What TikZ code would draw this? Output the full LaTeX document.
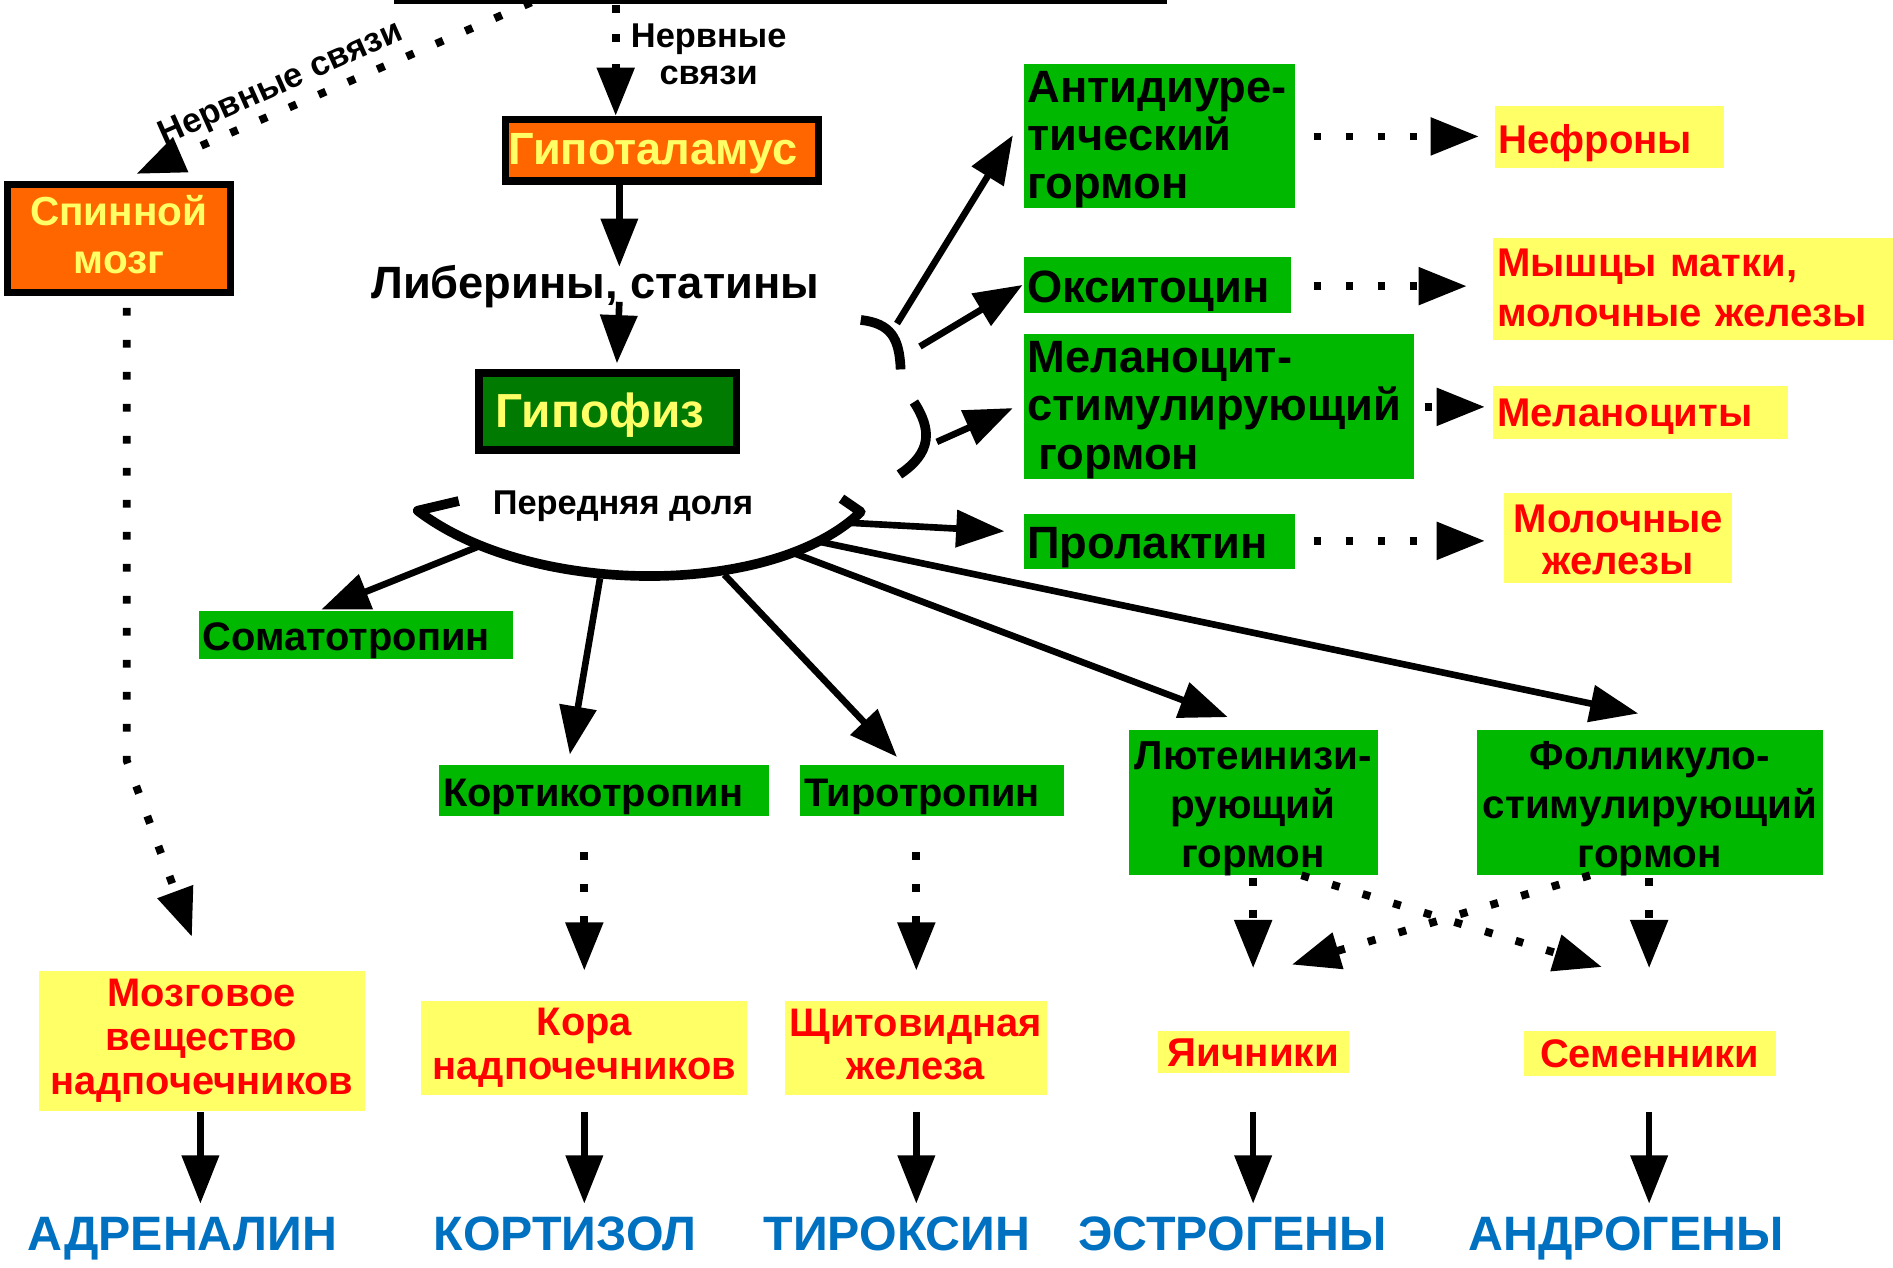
\documentclass[tikz,border=0pt]{standalone}
\usepackage{fontspec}
\setmainfont{Liberation Sans}
\usetikzlibrary{arrows.meta}
\definecolor{orng}{HTML}{FF6600}
\definecolor{ltyel}{HTML}{FFFF66}
\definecolor{dkgrn}{HTML}{007A00}
\definecolor{hgrn}{HTML}{00B800}
\definecolor{tred}{HTML}{FF0000}
\definecolor{tblue}{HTML}{0070C0}
\newcommand{\fs}[2]{\fontsize{#1}{#2}\selectfont\bfseries}
\begin{document}
\begin{tikzpicture}[x=1pt,y=-1pt,
  % boxes
  organ/.style={draw=black,line width=6pt,fill=orng,inner sep=0pt},
  gland/.style={draw=black,line width=6.5pt,fill=dkgrn,inner sep=0pt},
  hormone/.style={fill=hgrn,inner sep=0pt},
  target/.style={fill=ltyel,inner sep=0pt},
  % texts inside the boxes
  otext/.style={text=ltyel,inner sep=0pt,align=center},
  htext/.style={text=black,inner sep=0pt,align=left},
  htextc/.style={text=black,inner sep=0pt,align=center},
  ttext/.style={text=tred,inner sep=0pt,align=left},
  ttextc/.style={text=tred,inner sep=0pt,align=center},
  product/.style={text=tblue,inner sep=0pt,anchor=base,font=\fs{40}{44}},
  label/.style={text=black,inner sep=0pt,align=center},
  arr/.style={-{Triangle[length=40pt,width=30pt]},line width=5.5pt},
  darr/.style={arr,line width=6.5pt,dash pattern=on 6.5pt off 20pt},
  lobe/.style={line width=8pt,line join=round}
]
\useasboundingbox (0,0) rectangle (1568,1050);
\fill[white] (0,0) rectangle (1568,1050);

% central nervous system block, only its lower edge is inside the frame
\node[draw=black,line width=7pt,inner sep=0pt,outer sep=0pt,minimum width=633pt,minimum height=100pt,anchor=south west] (cns) at (330,0) {};
\coordinate (cnsA) at (440,2);
\coordinate (cnsB) at (510,4);

% organs
\node[organ,minimum width=259pt,minimum height=51pt] (hyp) at (548.5,124.5) {};
\node[otext,font=\fs{37.4}{40},xshift=-7.5pt,yshift=-3pt] (hypT) at (hyp) {Гипоталамус};
\node[organ,minimum width=185pt,minimum height=89pt] (sc) at (98.5,197.5) {};
\node[otext,font=\fs{33.6}{40},yshift=3pt] (scT) at (sc) {Спинной\\мозг};
\node[label,font=\fs{37.5}{40}] (lib) at (493,237) {Либерины, статины};
\node[gland,minimum width=213pt,minimum height=64pt] (pit) at (503.5,341) {};
\node[otext,font=\fs{39.6}{40},xshift=-6.5pt,yshift=-3pt] (pitT) at (pit) {Гипофиз};
\node[label,font=\fs{28.5}{30}] (ant) at (516,419) {Передняя доля};
\node[label,font=\fs{28.5}{30}] (nv1) at (587,45) {Нервные\\связи};
\node[label,font=\fs{28.5}{30},rotate=24] (nv2) at (233,70) {Нервные связи};

% posterior lobe hormones and their targets
\node[hormone,minimum width=225pt,minimum height=119pt] (adh) at (960.5,112.5) {};
\node[htext,text width=219pt,font=\fs{37.5}{40},yshift=-3pt] (adhT) at (adh) {Антидиуре-\\тический\\гормон};
\node[hormone,minimum width=221pt,minimum height=46pt] (oxy) at (958.5,236) {};
\node[htext,text width=215pt,font=\fs{37.5}{40},yshift=-5pt] (oxyT) at (oxy) {Окситоцин};
\node[hormone,minimum width=323pt,minimum height=120pt] (msh) at (1009.5,337) {};
\node[htext,text width=317pt,font=\fs{37.5}{40},yshift=-2.5pt] (mshT) at (msh) {Меланоцит-\\стимулирующий\\\hspace*{9pt}гормон};
\node[hormone,minimum width=225pt,minimum height=45pt] (prl) at (960.5,448.5) {};
\node[htext,text width=219pt,font=\fs{37.5}{40},yshift=-5pt] (prlT) at (prl) {Пролактин};

\node[target,minimum width=190pt,minimum height=51pt] (nef) at (1333,113.5) {};
\node[ttext,text width=184pt,font=\fs{33.2}{41},yshift=-5pt] (nefT) at (nef) {Нефроны};
\node[target,minimum width=331pt,minimum height=85pt] (mus) at (1402.5,239.5) {};
\node[ttext,text width=325pt,font=\fs{33.2}{41},yshift=1pt] (musT) at (mus) {Мышцы матки,\\молочные железы};
\node[target,minimum width=244pt,minimum height=44pt] (mel) at (1359,342) {};
\node[ttext,text width=238pt,font=\fs{33.2}{41},yshift=-3pt] (melT) at (mel) {Меланоциты};
\node[target,minimum width=189pt,minimum height=75pt] (mam) at (1340.5,445.5) {};
\node[ttextc,text width=183pt,font=\fs{33.2}{35},yshift=-2pt] (mamT) at (mam) {Молочные\\железы};

% anterior lobe hormones
\node[hormone,minimum width=260pt,minimum height=40pt] (sth) at (295,526) {};
\node[htext,text width=254pt,font=\fs{33}{40},yshift=-5pt] (sthT) at (sth) {Соматотропин};
\node[hormone,minimum width=273pt,minimum height=42pt] (acth) at (500.5,655) {};
\node[htext,text width=267pt,font=\fs{33}{40},yshift=-5pt] (acthT) at (acth) {Кортикотропин};
\node[hormone,minimum width=218pt,minimum height=42pt] (tsh) at (772,655) {};
\node[htext,text width=212pt,font=\fs{33}{40},yshift=-5pt] (tshT) at (tsh) {Тиротропин};
\node[hormone,minimum width=206pt,minimum height=120pt] (lh) at (1038,665) {};
\node[htextc,text width=200pt,font=\fs{33.5}{40.5},yshift=-5pt] (lhT) at (lh) {Лютеинизи-\\рующий\\гормон};
\node[hormone,minimum width=287pt,minimum height=120pt] (fsh) at (1366.5,665) {};
\node[htextc,text width=281pt,font=\fs{33.5}{40.5},yshift=-5pt] (fshT) at (fsh) {Фолликуло-\\стимулирующий\\гормон};

% target glands
\node[target,minimum width=270pt,minimum height=116pt] (med) at (167,862) {};
\node[ttextc,text width=264pt,font=\fs{33}{36.5}] (medT) at (med) {Мозговое\\вещество\\надпочечников};
\node[target,minimum width=270pt,minimum height=78pt] (cor) at (484,868) {};
\node[ttextc,text width=264pt,font=\fs{33}{36}] (corT) at (cor) {Кора\\надпочечников};
\node[target,minimum width=217pt,minimum height=78pt] (thy) at (758.5,868) {};
\node[ttextc,text width=211pt,font=\fs{33}{36},yshift=3pt] (thyT) at (thy) {Щитовидная\\железа};
\node[target,minimum width=158pt,minimum height=35pt] (ova) at (1038,871.5) {};
\node[ttextc,text width=152pt,font=\fs{33.4}{36}] (ovaT) at (ova) {Яичники};
\node[target,minimum width=209pt,minimum height=37pt] (tes) at (1366.5,872.5) {};
\node[ttextc,text width=203pt,font=\fs{33}{36}] (tesT) at (tes) {Семенники};

% secreted hormones (set on a common baseline)
\node[product] (adr) at (151,1036) {АДРЕНАЛИН};
\node[product] (crt) at (468,1036) {КОРТИЗОЛ};
\node[product] (thx) at (743,1036) {ТИРОКСИН};
\node[product] (est) at (1021,1036) {ЭСТРОГЕНЫ};
\node[product] (and) at (1347,1036) {АНДРОГЕНЫ};

% pituitary lobes drawn as brackets
\draw[lobe] (380,415) -- (346,423) .. controls (440,495) and (640,495) .. (713,424) -- (697,413);
\draw[lobe] (713,265) .. controls (738,268) and (745,280) .. (746,306);
\draw[lobe] (757,333) .. controls (772,356) and (772,375) .. (745,393);

% attachment points on the brackets
\coordinate (pA) at (743,268);
\coordinate (pB) at (762,287);
\coordinate (pC) at (776,366);
\coordinate (pD) at (703,433);
\coordinate (aS) at (398,452);
\coordinate (aC) at (497,479);
\coordinate (aT) at (600,476);
\coordinate (aL) at (657,458);
\coordinate (aF) at (680,449);

% nervous pathways
\draw[darr] (cnsA) -- (113,144);
\draw[darr,dash pattern=on 6.5pt off 18pt] (cnsB) -- (hyp.north -| cnsB);
\draw[darr] (sc.south -| 105,0) ++(0,10) -- (105,630) -- (159,776);

% hypothalamus to pituitary
\draw[arr] (hyp.south -| 513,0) -- (513,221);
\draw[arr] (513,250) -- (511,301);

% posterior lobe
\draw[arr] (pA) -- (839,112);
\draw[arr] (pB) -- (847,236);
\draw[arr] (pC) -- (839,338);
\draw[arr] (pD) -- (832,440);

\draw[darr] (1088,113) -- (1225,113);
\draw[darr] (1088,237) -- (1215,237);
\draw[darr] (1180,337) -- (1230,337);
\draw[darr] (1088,448) -- (1230,448);

% anterior lobe
\draw[arr] (aS) -- (266,505);
\draw[arr] (aC) -- (472,625);
\draw[arr] (aT) -- (743,627);
\draw[arr] (aL) -- (1017,594);
\draw[arr] (aF) -- (1357,591);

\draw[darr] (484,706) -- (484,804);
\draw[darr] (759,706) -- (759,804);
\draw[darr] (1038,727) -- (1038,802);
\draw[darr] (1366,727) -- (1366,802);
\draw[darr] (1078,725) -- (1327,801);
\draw[darr] (1317,725) -- (1070,799);

% glands to their hormones, all starting on one line below the boxes
\foreach \x in {166,484,759,1038,1366}
  \draw[arr] (\x,921) -- (\x,997);
\end{tikzpicture}
\end{document}
